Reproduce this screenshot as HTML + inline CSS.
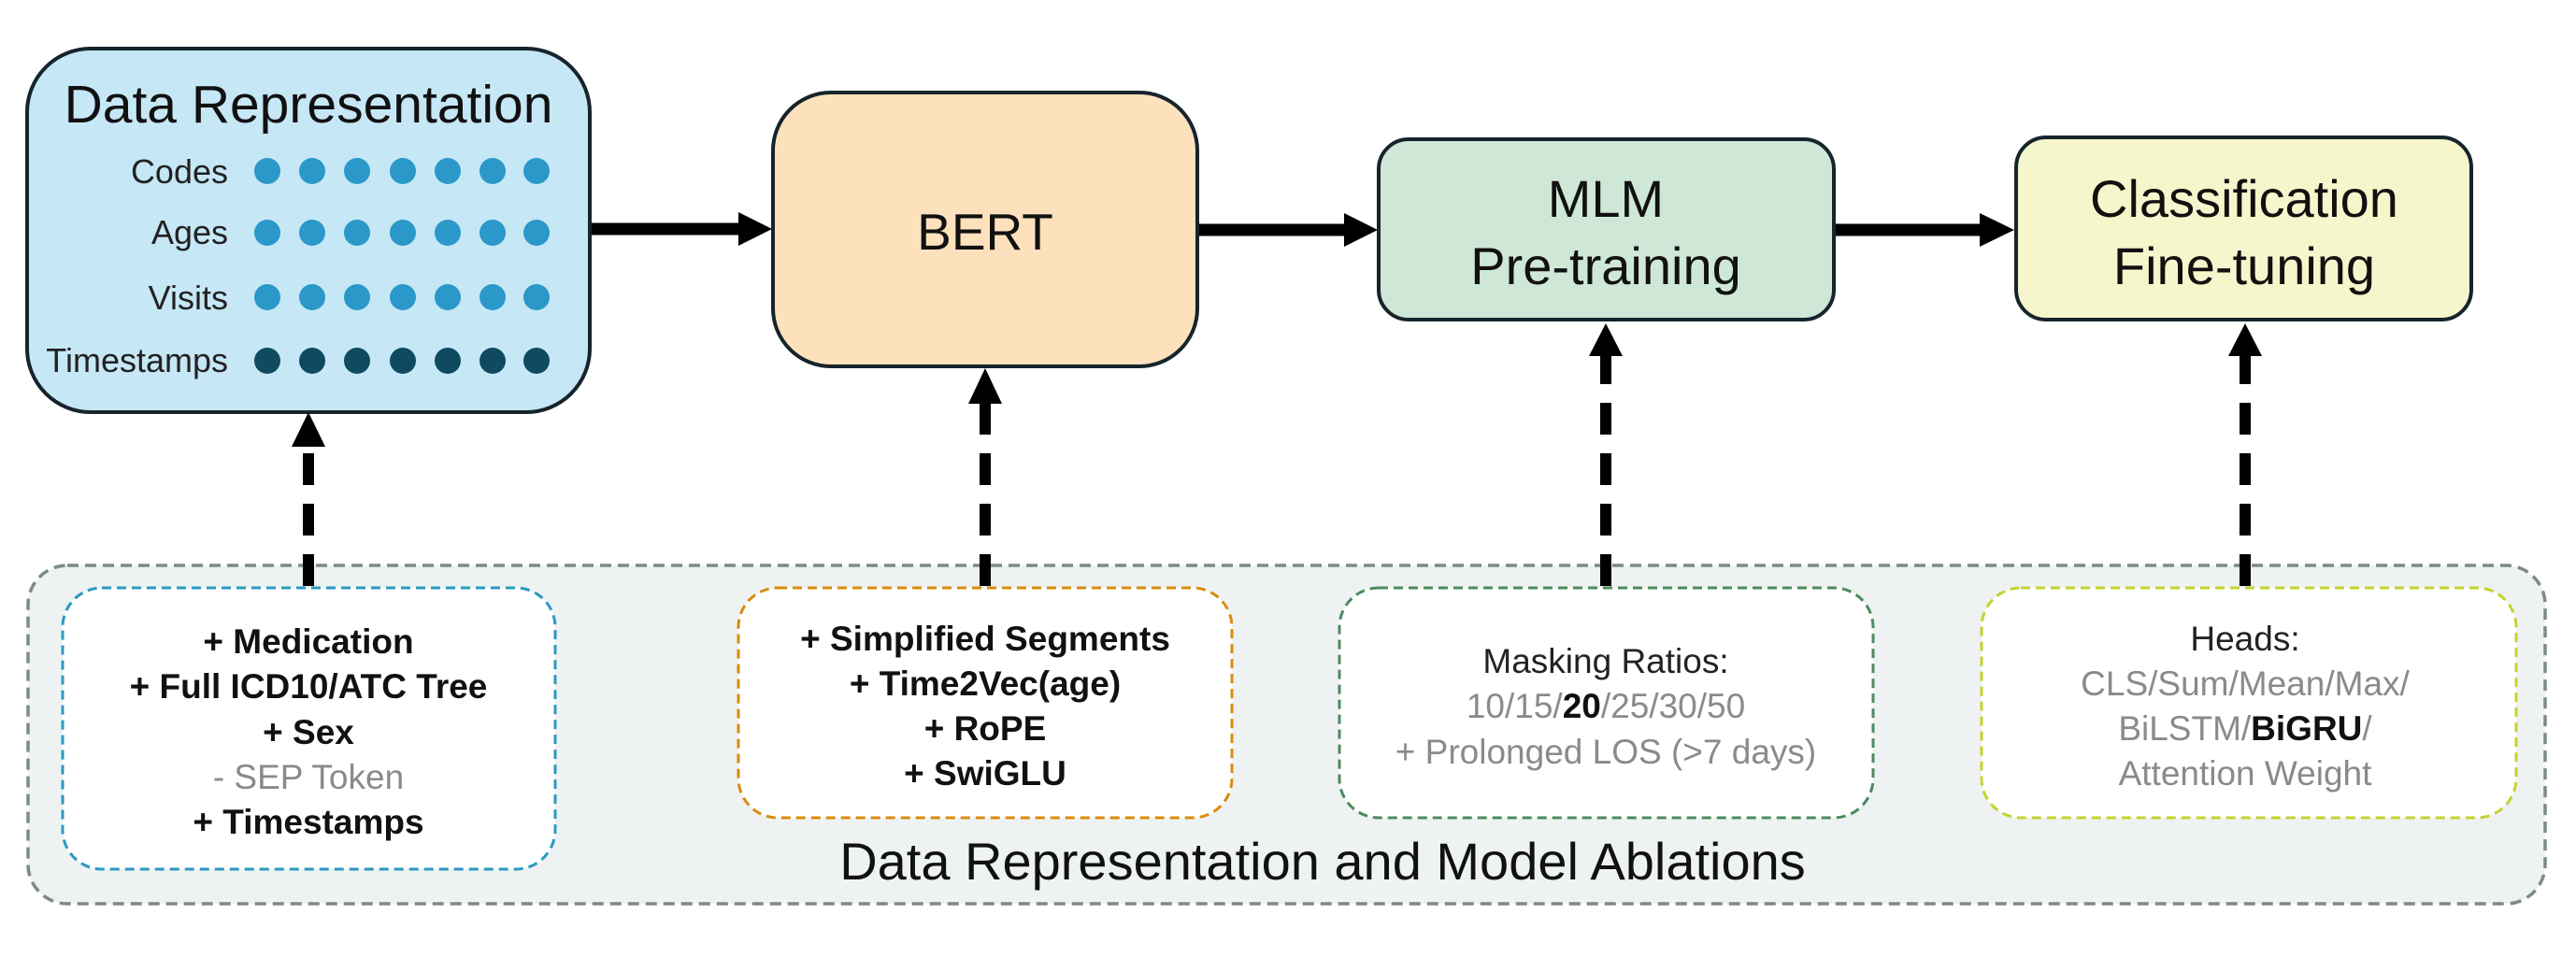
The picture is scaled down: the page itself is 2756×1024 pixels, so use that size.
<!DOCTYPE html>
<html><head><meta charset="utf-8"><style>
html,body{margin:0;padding:0;background:#fff;}
svg{display:block;font-family:"Liberation Sans",Arial,sans-serif;}
</style></head><body>
<svg width="2756" height="1024" viewBox="0 0 2756 1024" xmlns="http://www.w3.org/2000/svg">
<!-- outer ablation container -->
<rect x="30" y="605" width="2693" height="362" rx="42" fill="#eef2f3" stroke="#7d8a8a" stroke-width="3.5" stroke-dasharray="12,7"/>
<text x="1415" y="941" font-size="56" text-anchor="middle" fill="#111">Data Representation and Model Ablations</text>

<!-- main boxes -->
<rect x="29" y="52" width="602" height="389" rx="68" fill="#c6e7f5" stroke="#16242c" stroke-width="4"/>
<text x="330" y="131" font-size="57" text-anchor="middle" fill="#111">Data Representation</text>
<g font-size="36" text-anchor="end" fill="#222">
<text x="244" y="196">Codes</text>
<text x="244" y="261">Ages</text>
<text x="244" y="331">Visits</text>
<text x="244" y="398">Timestamps</text>
</g>
<g fill="#2a98c9">
<circle cx="286" cy="183" r="14"/><circle cx="334" cy="183" r="14"/><circle cx="382" cy="183" r="14"/><circle cx="431" cy="183" r="14"/><circle cx="479" cy="183" r="14"/><circle cx="527" cy="183" r="14"/><circle cx="574" cy="183" r="14"/>
<circle cx="286" cy="249" r="14"/><circle cx="334" cy="249" r="14"/><circle cx="382" cy="249" r="14"/><circle cx="431" cy="249" r="14"/><circle cx="479" cy="249" r="14"/><circle cx="527" cy="249" r="14"/><circle cx="574" cy="249" r="14"/>
<circle cx="286" cy="318" r="14"/><circle cx="334" cy="318" r="14"/><circle cx="382" cy="318" r="14"/><circle cx="431" cy="318" r="14"/><circle cx="479" cy="318" r="14"/><circle cx="527" cy="318" r="14"/><circle cx="574" cy="318" r="14"/>
</g>
<g fill="#0f4a60">
<circle cx="286" cy="386" r="14"/><circle cx="334" cy="386" r="14"/><circle cx="382" cy="386" r="14"/><circle cx="431" cy="386" r="14"/><circle cx="479" cy="386" r="14"/><circle cx="527" cy="386" r="14"/><circle cx="574" cy="386" r="14"/>
</g>

<rect x="827" y="99" width="454" height="293" rx="62" fill="#fde1bd" stroke="#16242c" stroke-width="4"/>
<text x="1054" y="267" font-size="55" text-anchor="middle" fill="#111">BERT</text>

<rect x="1475" y="149" width="487" height="193" rx="32" fill="#cfe7d6" stroke="#16242c" stroke-width="4"/>
<text x="1718" y="232" font-size="56" text-anchor="middle" fill="#111">MLM</text>
<text x="1718" y="304" font-size="56" text-anchor="middle" fill="#111">Pre-training</text>

<rect x="2157" y="147" width="487" height="195" rx="32" fill="#f6f6cc" stroke="#16242c" stroke-width="4"/>
<text x="2401" y="232" font-size="56" text-anchor="middle" fill="#111">Classification</text>
<text x="2401" y="304" font-size="56" text-anchor="middle" fill="#111">Fine-tuning</text>

<!-- solid arrows -->
<g stroke="#000" stroke-width="13">
<line x1="633" y1="245" x2="792" y2="245"/>
<line x1="1283" y1="246" x2="1440" y2="246"/>
<line x1="1964" y1="246" x2="2120" y2="246"/>
</g>
<g fill="#000">
<polygon points="790,227 826,245 790,263"/>
<polygon points="1438,228 1474,246 1438,264"/>
<polygon points="2118,228 2155,246 2118,264"/>
</g>

<!-- dashed arrows -->
<g stroke="#000" stroke-width="12" stroke-dasharray="34,20">
<line x1="330" y1="627" x2="330" y2="478"/>
<line x1="1054" y1="627" x2="1054" y2="432"/>
<line x1="1718" y1="627" x2="1718" y2="380"/>
<line x1="2402" y1="627" x2="2402" y2="380"/>
</g>
<g fill="#000">
<polygon points="312,478 330,441 348,478"/>
<polygon points="1036,432 1054,394 1072,432"/>
<polygon points="1700,381 1718,346 1736,381"/>
<polygon points="2384,381 2402,346 2420,381"/>
</g>

<!-- ablation boxes -->
<rect x="67" y="629" width="527" height="301" rx="42" fill="#fff" stroke="#2a9ac0" stroke-width="3" stroke-dasharray="10,6"/>
<g font-size="37" font-weight="bold" text-anchor="middle" fill="#111">
<text x="330" y="699">+ Medication</text>
<text x="330" y="747">+ Full ICD10/ATC Tree</text>
<text x="330" y="796">+ Sex</text>
<text x="330" y="844" font-weight="normal" fill="#8a8a8a">- SEP Token</text>
<text x="330" y="892">+ Timestamps</text>
</g>

<rect x="790" y="629" width="528" height="246" rx="42" fill="#fff" stroke="#d98c0a" stroke-width="3" stroke-dasharray="10,6"/>
<g font-size="37" font-weight="bold" text-anchor="middle" fill="#111">
<text x="1054" y="696">+ Simplified Segments</text>
<text x="1054" y="744">+ Time2Vec(age)</text>
<text x="1054" y="792">+ RoPE</text>
<text x="1054" y="840">+ SwiGLU</text>
</g>

<rect x="1433" y="629" width="571" height="246" rx="42" fill="#fff" stroke="#4d8a5e" stroke-width="3" stroke-dasharray="10,6"/>
<g font-size="37" text-anchor="middle">
<text x="1718" y="720" fill="#222">Masking Ratios:</text>
<text x="1718" y="768" fill="#8a8a8a">10/15/<tspan font-weight="bold" fill="#111">20</tspan>/25/30/50</text>
<text x="1718" y="817" fill="#8a8a8a">+ Prolonged LOS (&gt;7 days)</text>
</g>

<rect x="2120" y="629" width="572" height="246" rx="42" fill="#fff" stroke="#c5d22e" stroke-width="3" stroke-dasharray="10,6"/>
<g font-size="37" text-anchor="middle">
<text x="2402" y="696" fill="#222">Heads:</text>
<text x="2402" y="744" fill="#8a8a8a">CLS/Sum/Mean/Max/</text>
<text x="2402" y="792" fill="#8a8a8a">BiLSTM/<tspan font-weight="bold" fill="#111">BiGRU</tspan>/</text>
<text x="2402" y="840" fill="#8a8a8a">Attention Weight</text>
</g>
</svg>
</body></html>
